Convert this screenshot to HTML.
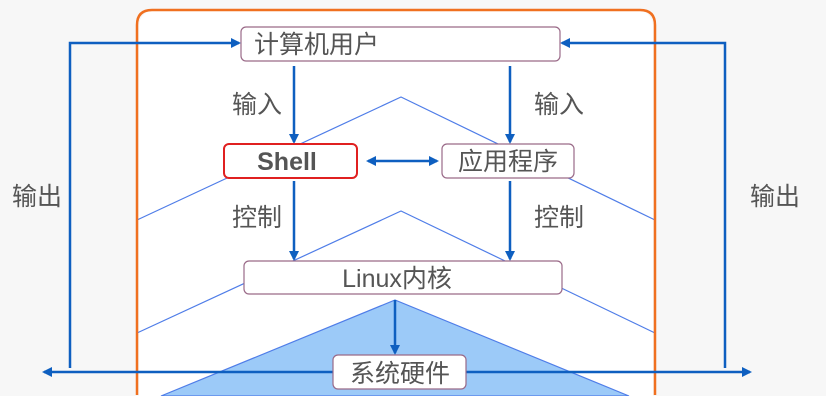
<!DOCTYPE html>
<html><head><meta charset="utf-8"><style>
html,body{margin:0;padding:0;background:#fff}
svg{display:block}
text{font-family:"Liberation Sans","Noto Sans CJK SC",sans-serif;fill:#555}
</style></head><body>
<svg width="826" height="419" xmlns="http://www.w3.org/2000/svg">
<defs>
<marker id="a" markerWidth="10" markerHeight="10" refX="8" refY="5" orient="auto" markerUnits="userSpaceOnUse"><path d="M0,0 L10,5 L0,10 Z" fill="#0e5fc0"/></marker>
<marker id="b" markerWidth="10" markerHeight="10" refX="2" refY="5" orient="auto" markerUnits="userSpaceOnUse"><path d="M10,0 L0,5 L10,10 Z" fill="#0e5fc0"/></marker>
</defs>
<rect x="0" y="0" width="826" height="396" fill="#f7f7f7"/>
<rect x="139" y="10" width="514" height="400" rx="16" fill="#fff"/>
<polyline points="137,220 401,97 655,220" fill="none" stroke="#4f7de8" stroke-width="1.2"/>
<polyline points="137,333 401,211 655,333" fill="none" stroke="#4f7de8" stroke-width="1.2"/>
<polygon points="161,396 395,300 629,396" fill="#9ccaf8" stroke="#4f7de8" stroke-width="1.2"/>
<rect x="0" y="396" width="826" height="23" fill="#fff"/>
<path d="M137,395 L137,25 Q137,10 152,10 L640,10 Q655,10 655,25 L655,395" fill="none" stroke="#f07020" stroke-width="2.5"/>
<polyline points="70,368 70,43 239,43" fill="none" stroke="#0e5fc0" stroke-width="2.5" marker-end="url(#a)"/>
<polyline points="725,368 725,43 562,43" fill="none" stroke="#0e5fc0" stroke-width="2.5" marker-end="url(#a)"/>
<line x1="44" y1="372" x2="750" y2="372" stroke="#0e5fc0" stroke-width="2.5" marker-start="url(#b)" marker-end="url(#a)"/>
<line x1="294" y1="66" x2="294" y2="142" stroke="#0e5fc0" stroke-width="2.5" marker-end="url(#a)"/>
<line x1="510" y1="66" x2="510" y2="142" stroke="#0e5fc0" stroke-width="2.5" marker-end="url(#a)"/>
<line x1="294" y1="181" x2="294" y2="259" stroke="#0e5fc0" stroke-width="2.5" marker-end="url(#a)"/>
<line x1="510" y1="181" x2="510" y2="259" stroke="#0e5fc0" stroke-width="2.5" marker-end="url(#a)"/>
<line x1="395" y1="300" x2="395" y2="353" stroke="#0e5fc0" stroke-width="2.5" marker-end="url(#a)"/>
<line x1="368" y1="161" x2="437" y2="161" stroke="#0e5fc0" stroke-width="2.5" marker-start="url(#b)" marker-end="url(#a)"/>
<rect x="241" y="27" width="319" height="34" rx="5" fill="#fff" stroke="#9a6a88" stroke-width="1.2"/>
<text x="254" y="53" font-size="25">计算机用户</text>
<rect x="224" y="144" width="133" height="34" rx="5" fill="#fff" stroke="#e02020" stroke-width="2"/>
<text x="287" y="170" font-size="25" font-weight="bold" text-anchor="middle">Shell</text>
<rect x="442" y="144" width="132" height="34" rx="5" fill="#fff" stroke="#9a6a88" stroke-width="1.2"/>
<text x="508" y="170" font-size="25" text-anchor="middle">应用程序</text>
<rect x="244" y="261" width="318" height="33" rx="5" fill="#fff" stroke="#9a6a88" stroke-width="1.2"/>
<text x="397" y="287" font-size="25" text-anchor="middle">Linux内核</text>
<rect x="333" y="355" width="133" height="34" rx="5" fill="#fff" stroke="#9a6a88" stroke-width="1.2"/>
<text x="400" y="382" font-size="25" text-anchor="middle">系统硬件</text>
<text x="232" y="113" font-size="25">输入</text>
<text x="534" y="113" font-size="25">输入</text>
<text x="232" y="226" font-size="25">控制</text>
<text x="534" y="226" font-size="25">控制</text>
<text x="12" y="205" font-size="25">输出</text>
<text x="750" y="205" font-size="25">输出</text>
</svg>
</body></html>
